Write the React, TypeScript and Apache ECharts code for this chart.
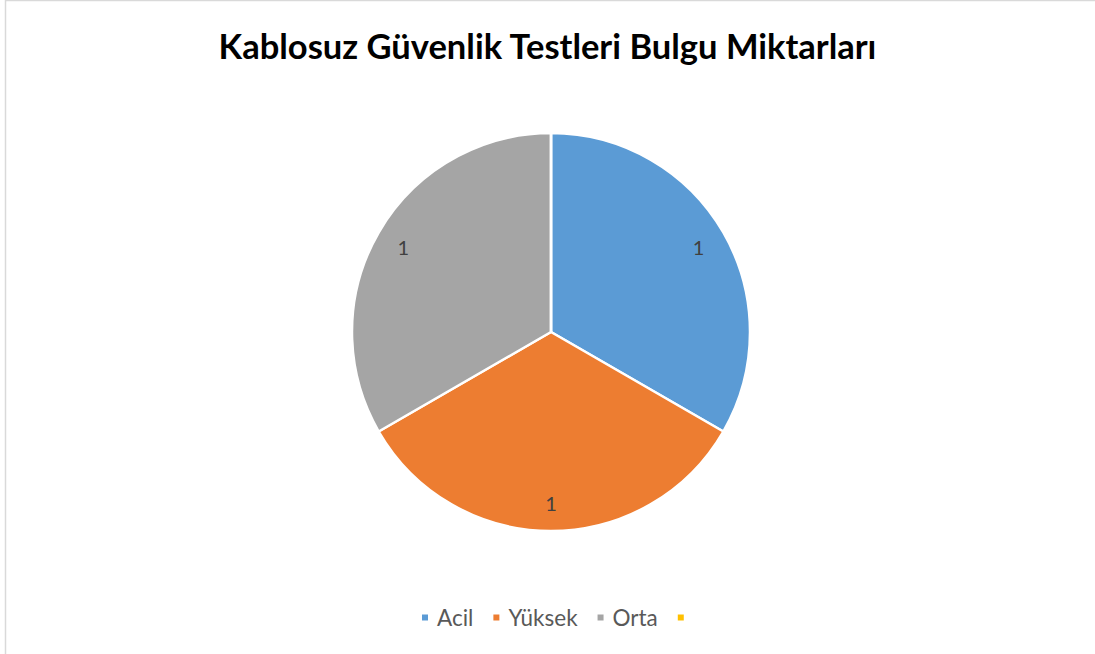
import React, { useEffect, useRef } from "react";
import * as echarts from "echarts";

const titleText = "Kablosuz Güvenlik Testleri Bulgu Miktarları";
const categories = ["Acil", "Yüksek", "Orta", " "];
const values = [1, 1, 1, 0];
const colors = ["#5B9BD5", "#ED7D31", "#A5A5A5", "#FFC000"];

export default function App() {
  const ref = useRef<HTMLDivElement>(null);
  useEffect(() => {
    if (!ref.current) return;
    const chart = echarts.init(ref.current, undefined, { renderer: "svg" });
    const data = categories.map((name, i) => ({
      name,
      value: values[i],
      itemStyle: { color: colors[i] },
    }));
    chart.setOption({
      animation: false,
      backgroundColor: "#ffffff",
      title: {
        text: titleText,
        left: "center",
        top: 23,
        textStyle: {
          fontFamily: "Lato",
          fontWeight: "bold",
          fontSize: 34.5,
          color: "#000000",
        },
      },
      graphic: [
        {
          type: "rect",
          shape: { x: 5.5, y: 0.5, width: 1200, height: 800 },
          style: { fill: "none", stroke: "#d9d9d9", lineWidth: 1.5 },
          silent: true,
        },
      ],
      legend: {
        data: categories,
        bottom: 25,
        left: 420,
        padding: 0,
        icon: "rect",
        itemWidth: 8,
        itemHeight: 8,
        itemGap: 18,
        textStyle: {
          fontFamily: "Lato",
          fontSize: 22.5,
          color: "#595959",
          padding: [0, 0, 0, 3],
        },
      },
      series: [
        {
          type: "pie",
          center: [551, 332],
          radius: [0, 199],
          startAngle: 90,
          clockwise: true,
          data,
          label: { show: false },
          labelLine: { show: false },
          itemStyle: { borderColor: "#ffffff", borderWidth: 2.5 },
          emphasis: { disabled: true },
        },
        {
          type: "pie",
          center: [551, 332],
          radius: [136, 199],
          startAngle: 90,
          clockwise: true,
          silent: true,
          legendHoverLink: false,
          data: data.map((d) => ({ ...d, itemStyle: { color: "rgba(0,0,0,0)" } })),
          itemStyle: { borderWidth: 0 },
          label: {
            show: true,
            position: "inside",
            fontFamily: "Lato",
            fontSize: 20,
            color: "#404040",
            formatter: (p: any) => (p.value ? String(p.value) : ""),
          },
          labelLine: { show: false },
          emphasis: { disabled: true },
          tooltip: { show: false },
        },
      ],
    });
    return () => chart.dispose();
  }, []);
  return (
    <div
      ref={ref}
      style={{ position: "fixed", left: 0, top: 0, width: 1095, height: 654 }}
    />
  );
}
